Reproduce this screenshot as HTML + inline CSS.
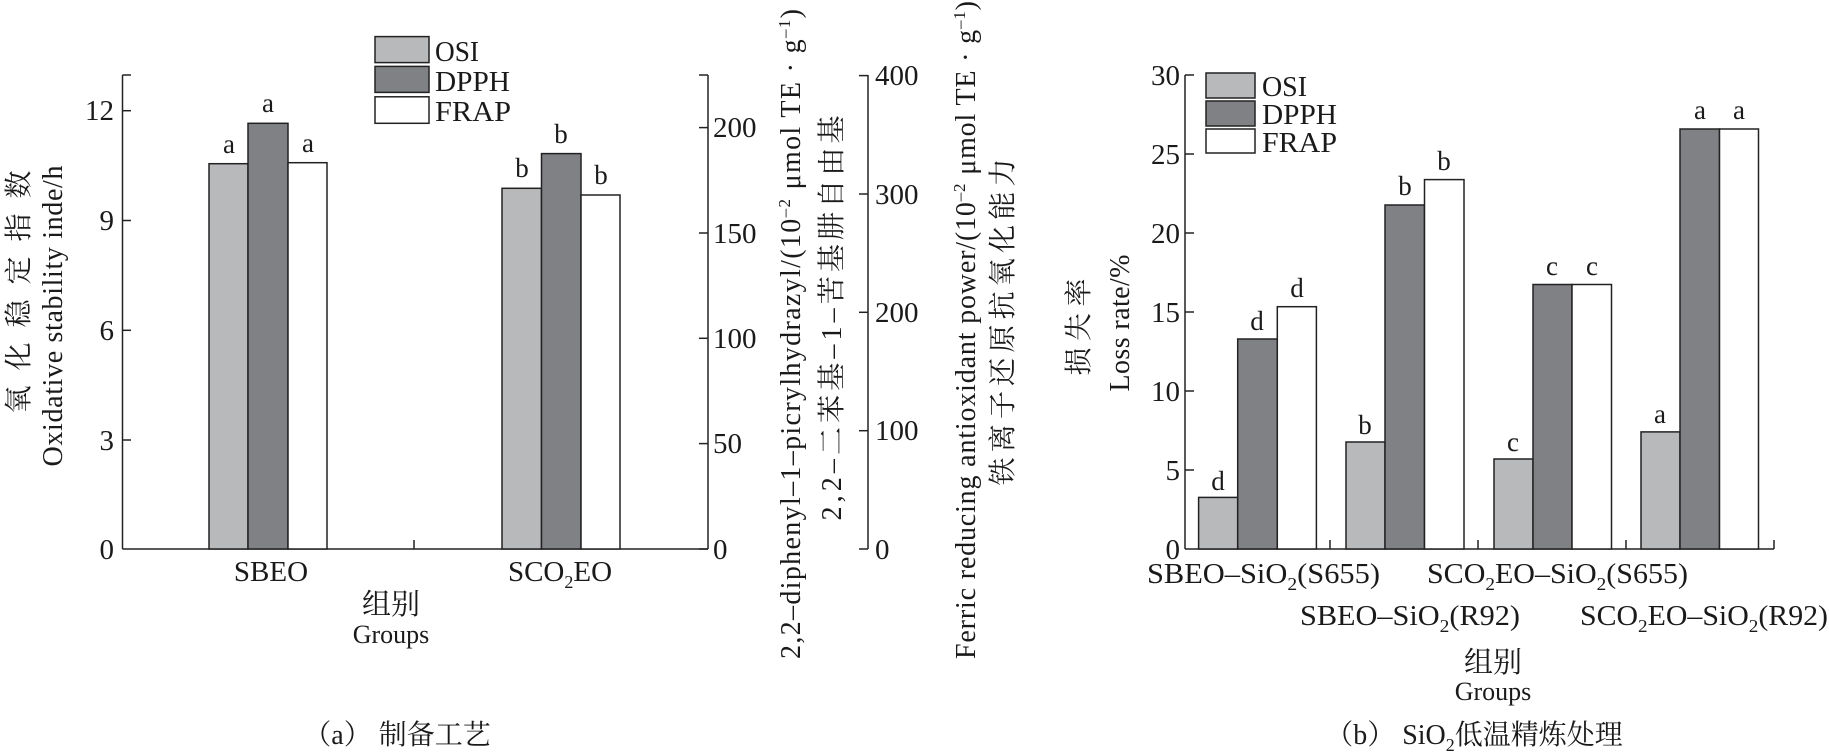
<!DOCTYPE html>
<html><head><meta charset="utf-8"><style>
html,body{margin:0;padding:0;background:#fff}
svg{display:block}
svg, text, tspan{font-family:"Liberation Serif","Noto Serif CJK SC",serif}
text{fill:#1a1a1a}
</style></head><body>
<svg width="1829" height="755" viewBox="0 0 1829 755" xmlns="http://www.w3.org/2000/svg" font-family="Liberation Serif, Noto Serif CJK SC, serif">
<g stroke="#222" stroke-width="1.5" fill="none">
<line x1="122.5" y1="75" x2="122.5" y2="549"/>
<line x1="122.5" y1="549" x2="708" y2="549"/>
<line x1="708" y1="75" x2="708" y2="549"/>
<line x1="868" y1="75" x2="868" y2="549"/>
<line x1="414" y1="549" x2="414" y2="540"/>
<line x1="122.5" y1="75" x2="131" y2="75"/>
<line x1="122.5" y1="110.7" x2="131" y2="110.7"/>
<line x1="122.5" y1="220.5" x2="131" y2="220.5"/>
<line x1="122.5" y1="330.3" x2="131" y2="330.3"/>
<line x1="122.5" y1="440" x2="131" y2="440"/>
<line x1="699" y1="75" x2="708" y2="75"/>
<line x1="699" y1="127.6" x2="708" y2="127.6"/>
<line x1="699" y1="233" x2="708" y2="233"/>
<line x1="699" y1="338.3" x2="708" y2="338.3"/>
<line x1="699" y1="443.6" x2="708" y2="443.6"/>
<line x1="699" y1="549" x2="708" y2="549"/>
<line x1="859" y1="75.6" x2="868" y2="75.6"/>
<line x1="859" y1="194" x2="868" y2="194"/>
<line x1="859" y1="312.3" x2="868" y2="312.3"/>
<line x1="859" y1="430.7" x2="868" y2="430.7"/>
<line x1="859" y1="549" x2="868" y2="549"/>
</g>
<g stroke="#222" stroke-width="1.5">
<rect x="209" y="163.7" width="39" height="385.3" fill="#b8b9bb"/>
<rect x="248" y="123.3" width="40" height="425.7" fill="#808185"/>
<rect x="288" y="162.7" width="39" height="386.3" fill="#fff"/>
<rect x="502" y="188.3" width="39.5" height="360.7" fill="#b8b9bb"/>
<rect x="541.5" y="153.6" width="39.5" height="395.4" fill="#808185"/>
<rect x="581" y="195" width="39" height="354" fill="#fff"/>
<rect x="375" y="36.6" width="54" height="26" fill="#b8b9bb"/>
<rect x="375" y="66.4" width="54" height="26" fill="#808185"/>
<rect x="375" y="96.8" width="54" height="26.5" fill="#fff"/>
</g>
<g font-size="29">
<text x="435" y="61" textLength="44" lengthAdjust="spacingAndGlyphs">OSI</text>
<text x="435" y="91" textLength="75" lengthAdjust="spacingAndGlyphs">DPPH</text>
<text x="435" y="121" textLength="76" lengthAdjust="spacingAndGlyphs">FRAP</text>
</g>
<g font-size="27" text-anchor="middle">
<text x="229" y="153">a</text><text x="268" y="112">a</text><text x="308" y="152">a</text>
<text x="522" y="177">b</text><text x="561" y="143">b</text><text x="601" y="184">b</text>
</g>
<g font-size="29" text-anchor="end">
<text x="114" y="120">12</text><text x="114" y="230">9</text><text x="114" y="340">6</text><text x="114" y="450">3</text><text x="114" y="559">0</text>
</g>
<g font-size="29">
<text x="713" y="137">200</text><text x="713" y="243">150</text><text x="713" y="348">100</text><text x="713" y="453">50</text><text x="713" y="559">0</text>
<text x="875" y="85">400</text><text x="875" y="204">300</text><text x="875" y="322">200</text><text x="875" y="440">100</text><text x="875" y="559">0</text>
</g>
<g font-size="29" text-anchor="middle">
<text x="271" y="581">SBEO</text>
<text x="560" y="581">SCO<tspan font-size="18" dy="7">2</tspan><tspan dy="-7">EO</tspan></text>
<text x="391" y="614" font-size="29">组别</text>
<text x="391" y="643" font-size="26">Groups</text>
<text x="397" y="744" font-size="28">（a） 制备工艺</text>
</g>
<g font-size="28" text-anchor="middle">
<text transform="translate(28,292) rotate(-90)" textLength="243" lengthAdjust="spacing">氧化稳定指数</text>
<text transform="translate(62,316) rotate(-90)" textLength="301" lengthAdjust="spacing">Oxidative stability inde/h</text>
<text transform="translate(800,334) rotate(-90)" textLength="650" lengthAdjust="spacing">2,2–diphenyl–1–picrylhydrazyl/(10<tspan font-size="17" dy="-10">–2</tspan><tspan dy="10"> μmol TE · g</tspan><tspan font-size="17" dy="-10">–1</tspan><tspan dy="10">)</tspan></text>
<text transform="translate(841,318) rotate(-90)" textLength="405" lengthAdjust="spacing">2,2–二苯基–1–苦基肼自由基</text>
<text transform="translate(975,330) rotate(-90)" textLength="658" lengthAdjust="spacing">Ferric reducing antioxidant power/(10<tspan font-size="17" dy="-10">–2</tspan><tspan dy="10"> μmol TE · g</tspan><tspan font-size="17" dy="-10">–1</tspan><tspan dy="10">)</tspan></text>
<text transform="translate(1012,322) rotate(-90)" textLength="327" lengthAdjust="spacing">铁离子还原抗氧化能力</text>
<text transform="translate(1088,327) rotate(-90)" textLength="97" lengthAdjust="spacing">损失率</text>
<text transform="translate(1129,323) rotate(-90)" textLength="137" lengthAdjust="spacing">Loss rate/%</text>
</g>
<g stroke="#222" stroke-width="1.5" fill="none">
<line x1="1185" y1="75" x2="1185" y2="549"/>
<line x1="1185" y1="549" x2="1774" y2="549"/>
<line x1="1774" y1="549" x2="1774" y2="540"/>
<line x1="1330" y1="549" x2="1330" y2="540"/>
<line x1="1478" y1="549" x2="1478" y2="540"/>
<line x1="1626" y1="549" x2="1626" y2="540"/>
<line x1="1185" y1="75" x2="1194" y2="75"/>
<line x1="1185" y1="154" x2="1194" y2="154"/>
<line x1="1185" y1="233" x2="1194" y2="233"/>
<line x1="1185" y1="312" x2="1194" y2="312"/>
<line x1="1185" y1="391" x2="1194" y2="391"/>
<line x1="1185" y1="470" x2="1194" y2="470"/>
</g>
<g stroke="#222" stroke-width="1.5">
<rect x="1198.6" y="497.4" width="39.1" height="51.6" fill="#b8b9bb"/>
<rect x="1237.7" y="339" width="39.6" height="210" fill="#808185"/>
<rect x="1277.3" y="306.7" width="39.1" height="242.3" fill="#fff"/>
<rect x="1346" y="442" width="39" height="107" fill="#b8b9bb"/>
<rect x="1385" y="205" width="39.5" height="344" fill="#808185"/>
<rect x="1424.5" y="179.6" width="39.5" height="369.4" fill="#fff"/>
<rect x="1494" y="459" width="39" height="90" fill="#b8b9bb"/>
<rect x="1533" y="284.5" width="39" height="264.5" fill="#808185"/>
<rect x="1572" y="284.5" width="39.5" height="264.5" fill="#fff"/>
<rect x="1641" y="431.9" width="39" height="117.1" fill="#b8b9bb"/>
<rect x="1680" y="129" width="39.5" height="420" fill="#808185"/>
<rect x="1719.5" y="129" width="39" height="420" fill="#fff"/>
<rect x="1206" y="73" width="49" height="25" fill="#b8b9bb"/>
<rect x="1206" y="101" width="49" height="25" fill="#808185"/>
<rect x="1206" y="129" width="49" height="24" fill="#fff"/>
</g>
<g font-size="29">
<text x="1262" y="96" textLength="45" lengthAdjust="spacingAndGlyphs">OSI</text>
<text x="1262" y="124" textLength="75" lengthAdjust="spacingAndGlyphs">DPPH</text>
<text x="1262" y="152" textLength="75" lengthAdjust="spacingAndGlyphs">FRAP</text>
</g>
<g font-size="27" text-anchor="middle">
<text x="1218" y="490">d</text><text x="1257" y="330">d</text><text x="1297" y="297">d</text>
<text x="1365" y="434">b</text><text x="1405" y="195">b</text><text x="1444" y="170">b</text>
<text x="1513" y="451">c</text><text x="1552" y="275">c</text><text x="1592" y="275">c</text>
<text x="1660" y="423">a</text><text x="1700" y="119">a</text><text x="1739" y="119">a</text>
</g>
<g font-size="29" text-anchor="end">
<text x="1180" y="85">30</text><text x="1180" y="164">25</text><text x="1180" y="243">20</text><text x="1180" y="322">15</text><text x="1180" y="401">10</text><text x="1180" y="480">5</text><text x="1180" y="559">0</text>
</g>
<g font-size="28">
<text x="1147" y="583" textLength="233" lengthAdjust="spacingAndGlyphs">SBEO–SiO<tspan font-size="18" dy="7">2</tspan><tspan dy="-7">(S655)</tspan></text>
<text x="1427" y="583" textLength="261" lengthAdjust="spacingAndGlyphs">SCO<tspan font-size="18" dy="7">2</tspan><tspan dy="-7">EO–SiO</tspan><tspan font-size="18" dy="7">2</tspan><tspan dy="-7">(S655)</tspan></text>
<text x="1300" y="625" textLength="220" lengthAdjust="spacingAndGlyphs">SBEO–SiO<tspan font-size="18" dy="7">2</tspan><tspan dy="-7">(R92)</tspan></text>
<text x="1580" y="625" textLength="248" lengthAdjust="spacingAndGlyphs">SCO<tspan font-size="18" dy="7">2</tspan><tspan dy="-7">EO–SiO</tspan><tspan font-size="18" dy="7">2</tspan><tspan dy="-7">(R92)</tspan></text>
</g>
<g text-anchor="middle">
<text x="1493" y="672" font-size="29">组别</text>
<text x="1493" y="700" font-size="26">Groups</text>
<text x="1474" y="744" font-size="28">（b） SiO<tspan font-size="18" dy="7">2</tspan><tspan dy="-7">低温精炼处理</tspan></text>
</g>
</svg>
</body></html>
